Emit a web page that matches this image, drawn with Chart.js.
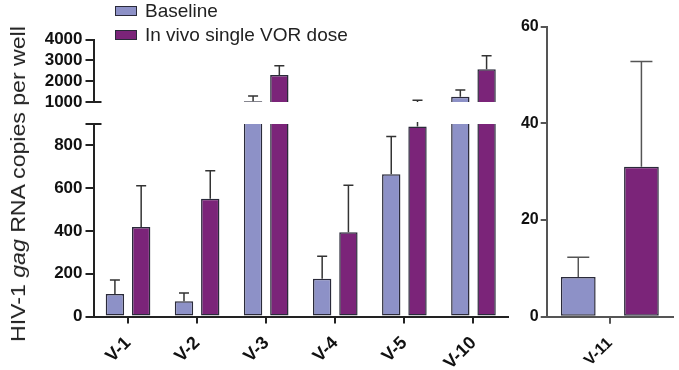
<!DOCTYPE html>
<html>
<head>
  <title>HIV-1 gag RNA</title>
  <script src="https://cdn.jsdelivr.net/npm/chart.js"></script>
  <style>
    body { margin: 0; background: #fff; font-family: "Liberation Sans", Arial, sans-serif; }
    #wrap { position: relative; width: 679px; height: 370px; overflow: hidden; }
    #wrap canvas { position: absolute; left: 0; top: 0; }
    .legend-item { position: absolute; left: 115px; height: 20px; display: flex; align-items: center; font-size: 19px; color: #222; white-space: nowrap; }
    .legend-item .box { width: 20px; height: 8px; border: 1.5px solid #2a2a3a; margin-right: 8px; }
    #yTitle { position: absolute; left: 18px; top: 184px; transform: translate(-50%, -50%) rotate(-90deg) scaleX(1.1); white-space: nowrap; font-size: 21px; color: #222; }
  </style>
</head>
<body>
  <div id="wrap">
    <canvas id="upperChart" width="679" height="370"></canvas>
    <canvas id="lowerChart" width="679" height="370"></canvas>
    <canvas id="rightChart" width="679" height="370"></canvas>
    <div id="legend"></div>
    <div id="yTitle">HIV-1 <i>gag</i> RNA copies per well</div>
  </div>

  <script>
    // main panel (broken axis)
    const categories = ['V-1', 'V-2', 'V-3', 'V-4', 'V-5', 'V-10'];
    const baseline = [105, 71, 1040, 177, 665, 1254];
    const baselineErr = [66, 39, 248, 105, 176, 322];
    const vorDose = [419, 550, 2296, 394, 888, 2570];
    const vorDoseErr = [192, 132, 447, 220, 192, 653];

    // V-11 panel
    const categories11 = ['V-11'];
    const baseline11 = [8.2];
    const baseline11Err = [4.1];
    const vorDose11 = [31.0];
    const vorDose11Err = [21.8];

    const lowerTicks = [0, 200, 400, 600, 800];
    const upperTicks = [1000, 2000, 3000, 4000];
    const rightTicks = [0, 20, 40, 60];

    const seriesNames = ['Baseline', 'In vivo single VOR dose'];
    const baseColor = '#8d91c7';
    const vorColor = '#7b2479';
    const edge = '#2a2a3a';

    // legend
    const legend = document.getElementById('legend');
    [baseColor, vorColor].forEach((c, i) => {
      const item = document.createElement('div');
      item.className = 'legend-item';
      item.style.top = (i === 0 ? 1 : 25) + 'px';
      item.innerHTML = `<span class="box" style="background:${c}"></span>${seriesNames[i]}`;
      legend.appendChild(item);
    });

    const errorBars = {
      id: 'errorBars',
      afterDatasetsDraw(chart, args, opts) {
        const { ctx, chartArea } = chart;
        const y = chart.scales.y;
        ctx.save();
        ctx.beginPath();
        ctx.rect(chartArea.left, chartArea.top - 2, chartArea.width, chartArea.height + 2);
        ctx.clip();
        ctx.strokeStyle = opts.color || '#333';
        ctx.lineWidth = 1.5;
        chart.data.datasets.forEach((ds, i) => {
          chart.getDatasetMeta(i).data.forEach((bar, j) => {
            const top = y.getPixelForValue(ds.data[j]);
            const end = y.getPixelForValue(ds.data[j] + ds.errors[j]);
            ctx.beginPath();
            ctx.moveTo(bar.x, top);
            ctx.lineTo(bar.x, end);
            ctx.moveTo(bar.x - opts.cap, end);
            ctx.lineTo(bar.x + opts.cap, end);
            ctx.stroke();
          });
        });
        ctx.restore();
      }
    };

    // little marks at the axis break
    const breakMark = {
      id: 'breakMark',
      afterDraw(chart, args, opts) {
        if (!opts.at) return;
        const { ctx } = chart;
        const y = chart.scales.y;
        const py = y.getPixelForValue(opts.at === 'top' ? y.max : y.min);
        ctx.save();
        ctx.strokeStyle = '#222';
        ctx.lineWidth = 2;
        ctx.beginPath();
        ctx.moveTo(y.right - 1, py);
        ctx.lineTo(y.right + 8, py);
        ctx.stroke();
        ctx.restore();
      }
    };

    function makeDatasets(a, aErr, b, bErr, cp, bp) {
      return [
        { label: seriesNames[0], data: a, errors: aErr, backgroundColor: baseColor },
        { label: seriesNames[1], data: b, errors: bErr, backgroundColor: vorColor }
      ].map(d => Object.assign(d, {
        borderColor: edge, borderWidth: 1.5, borderSkipped: false,
        categoryPercentage: cp, barPercentage: bp
      }));
    }

    function yAxis(min, max, tickList, size, color, width, tickLen, pad) {
      return {
        min: min, max: max,
        afterBuildTicks: s => { s.ticks = tickList.concat(tickList.includes(max) ? [] : [max]).map(v => ({ value: v })); },
        ticks: {
          autoSkip: false,
          callback: v => tickList.includes(v) ? String(v) : '',
          font: { family: 'Liberation Sans', size: size, weight: 'bold' },
          color: '#111', padding: pad
        },
        grid: { drawOnChartArea: false, drawTicks: true, tickLength: tickLen, color: color, lineWidth: 2 },
        border: { display: true, color: color, width: 2 },
        afterFit: s => { s.width = width; }
      };
    }

    function xAxis(size, color, height, show, pad) {
      return {
        display: show,
        grid: { display: true, offset: false, drawOnChartArea: false, drawTicks: true, tickLength: 7, color: color, lineWidth: 2 },
        border: { display: true, color: color, width: 2 },
        ticks: {
          font: { family: 'Liberation Sans', size: size, weight: 'bold' },
          color: '#111', maxRotation: 45, minRotation: 45, autoSkip: false, padding: pad
        },
        afterFit: s => { s.height = height; }
      };
    }

    const common = {
      responsive: false,
      animation: false,
      events: []
    };

    new Chart(document.getElementById('lowerChart'), {
      type: 'bar',
      data: { labels: categories, datasets: makeDatasets(baseline, baselineErr, vorDose, vorDoseErr, 0.76, 0.7) },
      options: Object.assign({}, common, {
        layout: { padding: { left: 0, top: 124, right: 171, bottom: 0 } },
        plugins: { legend: { display: false }, tooltip: { enabled: false }, errorBars: { cap: 5 }, breakMark: { at: 'top' } },
        scales: {
          x: xAxis(18, '#222', 53.5, true, 9),
          y: yAxis(0, 900, lowerTicks, 17, '#222', 93.5, 8, 3)
        }
      }),
      plugins: [errorBars, breakMark]
    });

    new Chart(document.getElementById('upperChart'), {
      type: 'bar',
      data: { labels: categories, datasets: makeDatasets(baseline, baselineErr, vorDose, vorDoseErr, 0.76, 0.7) },
      options: Object.assign({}, common, {
        layout: { padding: { left: 0, top: 39.5, right: 171, bottom: 268 } },
        plugins: { legend: { display: false }, tooltip: { enabled: false }, errorBars: { cap: 5 }, breakMark: { at: 'bottom' } },
        scales: {
          x: xAxis(18, '#222', 0, false, 9),
          y: yAxis(1000, 4000, upperTicks, 17, '#222', 93.5, 8, 3)
        }
      }),
      plugins: [errorBars, breakMark]
    });

    new Chart(document.getElementById('rightChart'), {
      type: 'bar',
      data: { labels: categories11, datasets: makeDatasets(baseline11, baseline11Err, vorDose11, vorDose11Err, 1.0, 0.55) },
      options: Object.assign({}, common, {
        layout: { padding: { left: 500, top: 26.7, right: 6, bottom: 0 } },
        plugins: { legend: { display: false }, tooltip: { enabled: false }, errorBars: { cap: 11, color: '#555' } },
        scales: {
          x: xAxis(16, '#555', 53.3, true, 10),
          y: yAxis(0, 60, rightTicks, 16, '#555', 46.7, 6, 2)
        }
      }),
      plugins: [errorBars]
    });
  </script>
</body>
</html>
